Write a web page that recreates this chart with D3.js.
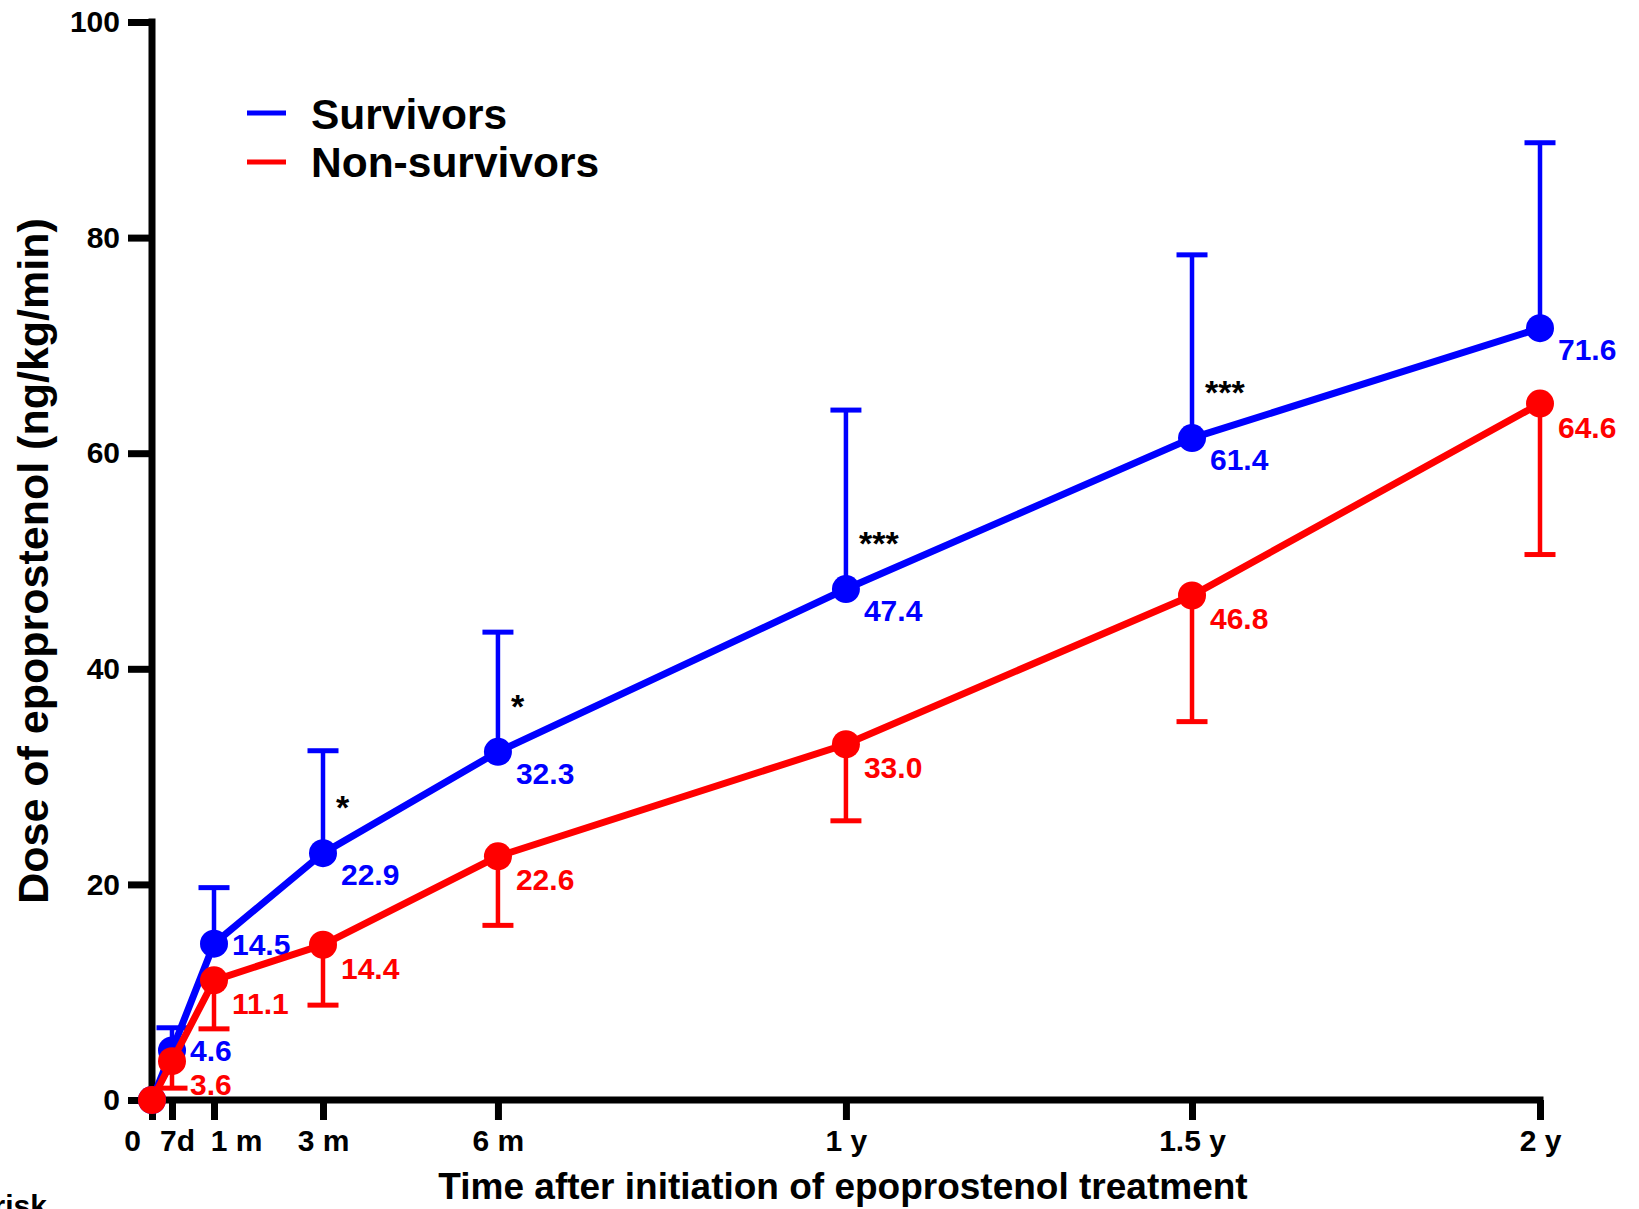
<!DOCTYPE html>
<html>
<head>
<meta charset="utf-8">
<script src="https://cdn.jsdelivr.net/npm/d3@7"></script>
<style>
  body { margin: 0; background: #fff; }
  svg text { font-family: "Liberation Sans", Arial, sans-serif; font-weight: bold; }
</style>
</head>
<body>
<script>
// time points (days after start of treatment) and their tick labels
var timeDays = [0, 7, 30, 90, 182, 365, 547, 730];
var tickLabels = ["0", "7d", "1 m", "3 m", "6 m", "1 y", "1.5 y", "2 y"];

// survivors: mean and top of error bar
var survMean = [0, 4.6, 14.5, 22.9, 32.3, 47.4, 61.4, 71.6];
var survUpper = [null, 6.7, 19.7, 32.4, 43.4, 64.0, 78.4, 88.8];

// non-survivors: mean and bottom of error bar
var nonMean = [0, 3.6, 11.1, 14.4, 22.6, 33.0, 46.8, 64.6];
var nonLower = [null, 1.1, 6.6, 8.8, 16.2, 25.9, 35.1, 50.6];

// significance marks per time point
var sigMarks = ["", "", "", "*", "*", "***", "***", ""];

var yTicks = [0, 20, 40, 60, 80, 100];

window.onload = function(){
    var w = 1639, h = 1209;
    var blue = "#0000ff", red = "#ff0000";

    var svg = d3.select("body").append("svg")
      .attr("width", w)
      .attr("height", h);

    // x axis is stretched in the first month
    var x = d3.scaleLinear()
      .domain([0, 7, 30, 90, 730])
      .range([152, 172, 214, 323, 1540]);
    var y = d3.scaleLinear()
      .domain([0, 100])
      .range([1100, 22]);

    // y axis
    var yAxis = svg.append("g")
      .attr("transform", "translate(" + x(0) + ",0)")
      .call(d3.axisLeft(y).tickValues(yTicks).tickSize(24).tickPadding(8).tickSizeOuter(0));
    yAxis.select(".domain").remove();
    yAxis.selectAll(".tick line").attr("stroke", "#000").attr("stroke-width", 7);
    yAxis.selectAll(".tick text").attr("font-size", 30).attr("fill", "#000")
      .attr("font-family", "Liberation Sans, Arial, sans-serif").attr("font-weight", "bold");
    yAxis.append("line")
      .attr("x1", 0).attr("x2", 0)
      .attr("y1", y(100) - 3.5).attr("y2", y(0))
      .attr("stroke", "#000").attr("stroke-width", 7);

    // x axis
    var xAxis = svg.append("g")
      .attr("transform", "translate(0," + y(0) + ")")
      .call(d3.axisBottom(x).tickValues(timeDays).tickSize(20).tickPadding(10).tickSizeOuter(0)
        .tickFormat(function(d, i){ return tickLabels[i]; }));
    xAxis.select(".domain").remove();
    xAxis.selectAll(".tick line").attr("stroke", "#000").attr("stroke-width", 7);
    xAxis.selectAll(".tick text").attr("font-size", 30).attr("fill", "#000")
      .attr("font-family", "Liberation Sans, Arial, sans-serif").attr("font-weight", "bold")
      .attr("dx", function(d, i){ return i == 0 ? -20 : i == 1 ? 5 : i == 2 ? 22 : 0; });
    xAxis.append("line")
      .attr("x1", x(0) - 3.5).attr("x2", x(730) + 3.5)
      .attr("y1", 0).attr("y2", 0)
      .attr("stroke", "#000").attr("stroke-width", 7);

    // axis titles
    svg.append("text")
      .attr("x", 843).attr("y", 1199)
      .attr("text-anchor", "middle")
      .attr("font-size", 37)
      .text("Time after initiation of epoprostenol treatment");
    svg.append("text")
      .attr("transform", "translate(48,561) rotate(-90)")
      .attr("text-anchor", "middle")
      .attr("font-size", 43)
      .text("Dose of epoprostenol (ng/kg/min)");

    // text cut off at the bottom edge, as in the source figure
    svg.append("text")
      .attr("x", 47).attr("y", 1216)
      .attr("text-anchor", "end")
      .attr("font-size", 30)
      .text("risk");

    function drawSeries(mean, bar, color, labelDy){
      var pts = timeDays.map(function(t, i){ return {t: t, v: mean[i], e: bar[i], i: i}; });
      var g = svg.append("g");

      var bars = g.selectAll(".bar").data(pts.filter(function(d){ return d.e != null; }))
        .enter().append("g");
      bars.append("line")
        .attr("x1", function(d){ return x(d.t); })
        .attr("x2", function(d){ return x(d.t); })
        .attr("y1", function(d){ return y(d.v); })
        .attr("y2", function(d){ return y(d.e); })
        .attr("stroke", color).attr("stroke-width", 4.5);
      bars.append("line")
        .attr("x1", function(d){ return x(d.t) - 15.5; })
        .attr("x2", function(d){ return x(d.t) + 15.5; })
        .attr("y1", function(d){ return y(d.e); })
        .attr("y2", function(d){ return y(d.e); })
        .attr("stroke", color).attr("stroke-width", 5);

      g.append("path")
        .datum(pts)
        .attr("fill", "none")
        .attr("stroke", color)
        .attr("stroke-width", 7)
        .attr("d", d3.line().x(function(d){ return x(d.t); }).y(function(d){ return y(d.v); }));

      g.selectAll("circle").data(pts).enter().append("circle")
        .attr("cx", function(d){ return x(d.t); })
        .attr("cy", function(d){ return y(d.v); })
        .attr("r", 14)
        .attr("fill", color);

      g.selectAll(".lbl").data(pts.filter(function(d){ return d.t > 0; }))
        .enter().append("text")
        .attr("x", function(d){ return x(d.t) + 18; })
        .attr("y", function(d){ return y(d.v) + labelDy(d.i); })
        .attr("font-size", 30)
        .attr("fill", color)
        .text(function(d){ return d.v.toFixed(1); });
      return pts;
    }

    var sPts = drawSeries(survMean, survUpper, blue, function(i){ return (i == 1 || i == 2) ? 11 : 32; });

    // significance stars next to survivors' points
    svg.selectAll(".sig").data(sPts.filter(function(d){ return sigMarks[d.i] != ""; }))
      .enter().append("text")
      .attr("x", function(d){ return x(d.t) + 13; })
      .attr("y", function(d){ return y(d.v) - 34; })
      .attr("font-size", 34)
      .attr("font-weight", "normal")
      .attr("fill", "#000")
      .text(function(d){ return sigMarks[d.i]; });

    drawSeries(nonMean, nonLower, red, function(i){ return 34; });

    // legend
    var legend = svg.append("g");
    var items = [["Survivors", blue], ["Non-survivors", red]];
    items.forEach(function(it, k){
      legend.append("line")
        .attr("x1", 247).attr("x2", 286)
        .attr("y1", 113 + k * 49).attr("y2", 113 + k * 49)
        .attr("stroke", it[1]).attr("stroke-width", 5);
      legend.append("text")
        .attr("x", 311).attr("y", 129 + k * 48)
        .attr("font-size", 42.5)
        .text(it[0]);
    });
};
</script>
</body>
</html>
